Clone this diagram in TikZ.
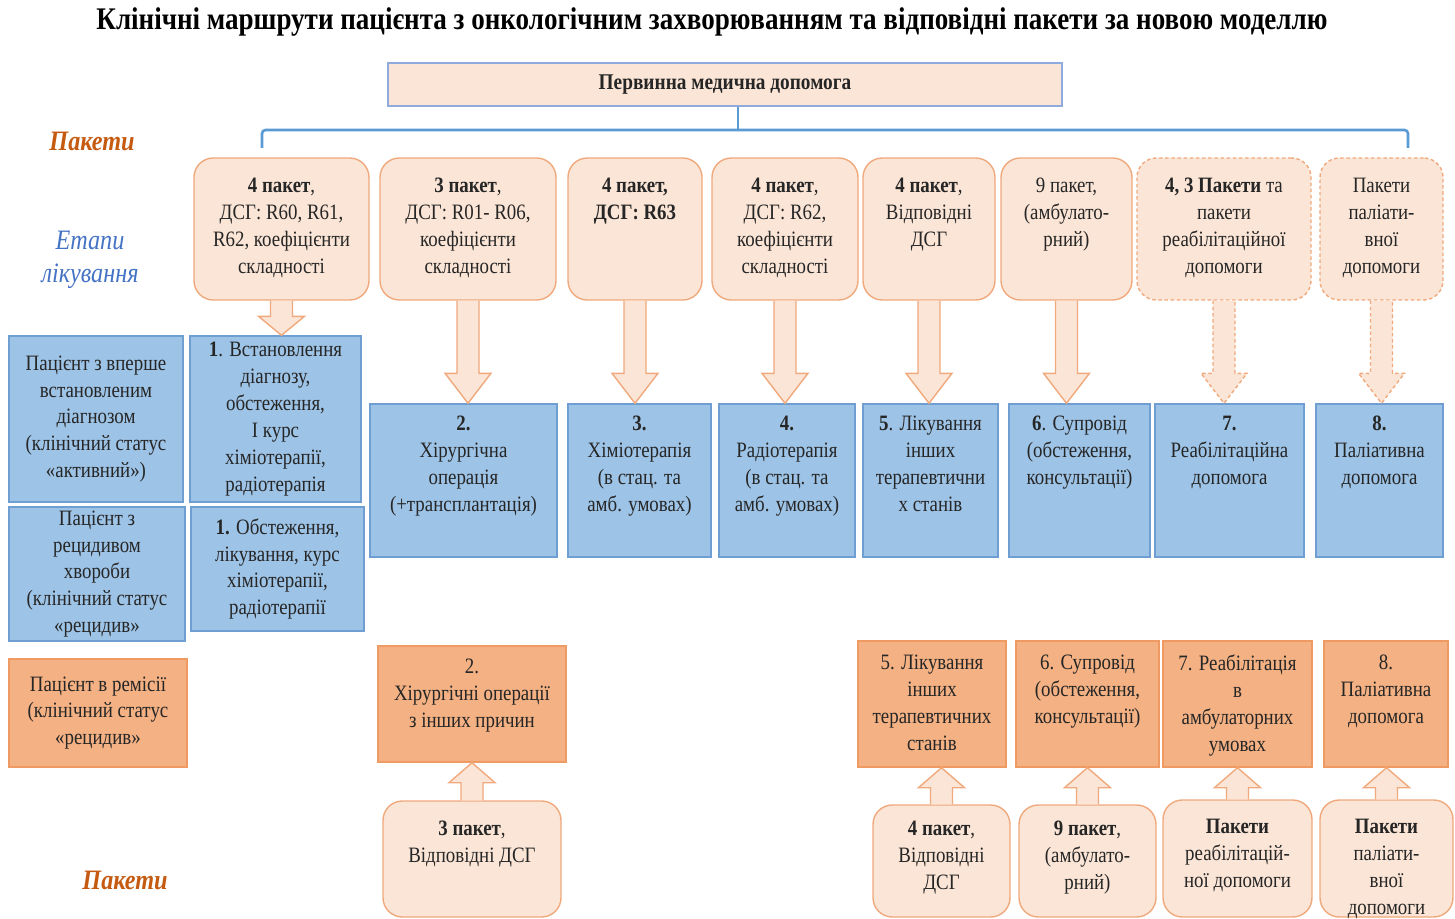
\documentclass[tikz,border=0pt]{standalone}
\usepackage{fontspec}
\setmainfont{Liberation Serif}[FakeStretch=0.86]
\usepackage{tikz}
\usetikzlibrary{calc}
\definecolor{ink}{HTML}{262626}
\definecolor{pkfill}{HTML}{FBE5D6}
\definecolor{pkline}{HTML}{F0A97C}
\definecolor{stfill}{HTML}{9DC3E6}
\definecolor{stline}{HTML}{6E9ED2}
\definecolor{rmfill}{HTML}{F4B183}
\definecolor{rmline}{HTML}{EE9A62}
\definecolor{brk}{HTML}{5B9BD5}
\definecolor{primline}{HTML}{8FAADC}
\definecolor{pkorange}{HTML}{C55A11}
\definecolor{etblue}{HTML}{4472C4}

\newdimen\pxu \pxu=0.02cm
\newcommand{\cellfont}{\fontsize{12.5}{15.3}\selectfont}
\newcommand{\topcell}[4][12]{\parbox[c][#3\pxu][t]{#2\pxu}{\centering\vspace*{#1\pxu}#4\par}}
\newcommand{\midcell}[3]{\parbox[c][#2\pxu][c]{#1\pxu}{\centering #3\par}}

\tikzset{
  pkg/.style={draw=pkline,fill=pkfill,rounded corners=11pt,inner sep=0pt,line width=0.8pt,text=ink,font=\cellfont},
  dsh/.style={dash pattern=on 2pt off 1.5pt},
  pkgdash/.style={pkg,dsh},
  stage/.style={draw=stline,fill=stfill,inner sep=0pt,line width=0.8pt,text=ink,font=\cellfont},
  remit/.style={draw=rmline,fill=rmfill,inner sep=0pt,line width=0.8pt,text=ink,font=\cellfont},
  prim/.style={draw=primline,fill=pkfill,inner sep=0pt,line width=0.8pt,text=ink,font=\fontsize{12.8}{14}\selectfont\bfseries},
  blk/.style={draw=pkline,fill=pkfill,line width=0.8pt,line join=miter},
  brace/.style={draw=brk,line width=1.5pt,rounded corners=2pt},
  sidepk/.style={text=pkorange,font=\fontsize{16}{19}\selectfont\bfseries\itshape},
  sideet/.style={text=etblue,font=\fontsize{16}{18.7}\selectfont\itshape,align=center},
}

% block arrows between boxes: source, target, head length
\newcommand{\blkdown}[4][]{%
  \draw[blk,#1] ($(#2.south)+(-11,0)$) -- ($(#2.south|-#3.north)+(-11,-#4)$)
    -- ($(#2.south|-#3.north)+(-23,-#4)$) -- (#2.south|-#3.north)
    -- ($(#2.south|-#3.north)+(23,-#4)$) -- ($(#2.south|-#3.north)+(11,-#4)$)
    -- ($(#2.south)+(11,0)$);}
\newcommand{\blkup}[4][]{%
  \draw[blk,#1] ($(#2.north)+(-11,0)$) -- ($(#2.north|-#3.south)+(-11,#4)$)
    -- ($(#2.north|-#3.south)+(-23,#4)$) -- (#2.north|-#3.south)
    -- ($(#2.north|-#3.south)+(23,#4)$) -- ($(#2.north|-#3.south)+(11,#4)$)
    -- ($(#2.north)+(11,0)$);}

\begin{document}
\begin{tikzpicture}[x=0.02cm,y=-0.02cm]
  \useasboundingbox (0,0) rectangle (1455,919);
  \node[font=\fontsize{17.9}{21}\selectfont\bfseries] (title) at (712,22)
    {Клінічні маршрути пацієнта з онкологічним захворюванням та відповідні пакети за новою моделлю};
  \node[prim] (prim) at (725,84.5) {\midcell{674}{43}{Первинна медична допомога}};
  \coordinate (brl) at (262,148);
  \coordinate (brr) at (1408,148);
  \coordinate (brtip) at ($(prim.south)+(13,0)$);
  \draw[brace] (brl) -- (262,130) -- (1408,130) -- (brr);
  \draw[brace] (brtip) -- (brtip |- 0,130);

  \node[sidepk] (pkup) at (92,141) {Пакети};
  \node[sideet] (etapy) at (90,260) {Етапи\\лікування};
  \node[sidepk] (pkdown) at (125,880) {Пакети};

  % packages
  \node[pkg] (p1) at (281.5,229) {\topcell[20]{175}{142}{\textbf{4 пакет},\\ДСГ: R60, R61,\\R62, коефіцієнти\\складності}};
  \node[pkg] (p2) at (468,229) {\topcell[20]{176}{142}{\textbf{3 пакет},\\ДСГ: R01- R06,\\коефіцієнти\\складності}};
  \node[pkg] (p3) at (635,229) {\topcell[20]{134}{142}{\textbf{4 пакет,}\\\textbf{ДСГ: R63}}};
  \node[pkg] (p4) at (785,229) {\topcell[20]{146}{142}{\textbf{4 пакет},\\ДСГ: R62,\\коефіцієнти\\складності}};
  \node[pkg] (p5) at (929,229) {\topcell[20]{132}{142}{\textbf{4 пакет},\\Відповідні\\ДСГ}};
  \node[pkg] (p6) at (1066.5,229) {\topcell[20]{131}{142}{9 пакет,\\(амбулато-\\рний)}};
  \node[pkgdash] (p7) at (1224,229) {\topcell[20]{174}{142}{\textbf{4, 3 Пакети} та\\пакети\\реабілітаційної\\допомоги}};
  \node[pkgdash] (p8) at (1381.5,229) {\topcell[20]{123}{142}{Пакети\\паліати-\\вної\\допомоги}};

  % patients and stages
  \node[stage] (pt1) at (96,419) {\midcell{174}{166}{Пацієнт з вперше\\встановленим\\діагнозом\\(клінічний статус\\«активний»)}};
  \node[stage] (s1) at (275.5,419) {\midcell{171}{166}{\textbf{1}. Встановлення\\діагнозу,\\обстеження,\\І курс\\хіміотерапії,\\радіотерапія}};
  \node[stage] (pt2) at (97,574) {\midcell{176}{134}{Пацієнт з\\рецидивом\\хвороби\\(клінічний статус\\«рецидив»}};
  \node[stage] (s1b) at (277.5,569) {\midcell{173}{124}{\textbf{1.} Обстеження,\\лікування, курс\\хіміотерапії,\\радіотерапії}};
  \node[remit] (rm) at (98,713) {\midcell{178}{108}{Пацієнт в ремісії\\(клінічний статус\\«рецидив»}};

  \node[stage] (s2) at (463.5,480.5) {\topcell{187}{153}{\textbf{2.}\\Хірургічна\\операція\\(+трансплантація)}};
  \node[stage] (s3) at (639.5,480.5) {\topcell{143}{153}{\textbf{3.}\\Хіміотерапія\\(в стац. та\\амб. умовах)}};
  \node[stage] (s4) at (787,480.5) {\topcell{136}{153}{\textbf{4.}\\Радіотерапія\\(в стац. та\\амб. умовах)}};
  \node[stage] (s5) at (930.5,480.5) {\topcell{135}{153}{\textbf{5}. Лікування\\інших\\терапевтични\\х станів}};
  \node[stage] (s6) at (1079.5,480.5) {\topcell{141}{153}{\textbf{6}. Супровід\\(обстеження,\\консультації)}};
  \node[stage] (s7) at (1229.5,480.5) {\topcell{149}{153}{\textbf{7.}\\Реабілітаційна\\допомога}};
  \node[stage] (s8) at (1379.5,480.5) {\topcell{127}{153}{\textbf{8.}\\Паліативна\\допомога}};

  \node[remit] (o2) at (472,704) {\topcell[13]{188}{116}{2.\\Хірургічні операції\\з інших причин}};
  \node[remit] (o5) at (932,704) {\topcell[14]{148}{126}{5. Лікування\\інших\\терапевтичних\\станів}};
  \node[remit] (o6) at (1087.5,704) {\topcell[14]{143}{126}{6. Супровід\\(обстеження,\\консультації)}};
  \node[remit] (o7) at (1237.5,704) {\topcell[14]{149}{126}{7. Реабілітація\\в\\амбулаторних\\умовах}};
  \node[remit] (o8) at (1386,704) {\topcell[14]{124}{126}{8.\\Паліативна\\допомога}};

  \node[pkg] (b3) at (472,859) {\topcell[20]{178}{116}{\textbf{3 пакет},\\Відповідні ДСГ}};
  \node[pkg] (b4) at (941.5,861) {\topcell[16]{137}{112}{\textbf{4 пакет},\\Відповідні\\ДСГ}};
  \node[pkg] (b9) at (1087.5,861) {\topcell[16]{137}{112}{\textbf{9 пакет},\\(амбулато-\\рний)}};
  \node[pkg] (br) at (1237.5,858.5) {\topcell[19]{149}{117}{\textbf{Пакети}\\реабілітацій-\\ної допомоги}};
  \node[pkg] (bp) at (1386.5,858.5) {\topcell[19]{133}{117}{\textbf{Пакети}\\паліати-\\вної\\допомоги}};

  \blkdown{p1}{s1}{19}
  \blkdown{p2}{s2}{30}
  \blkdown{p3}{s3}{30}
  \blkdown{p4}{s4}{30}
  \blkdown{p5}{s5}{30}
  \blkdown{p6}{s6}{30}
  \blkdown[dsh]{p7}{s7}{30}
  \blkdown[dsh]{p8}{s8}{30}
  \blkup{b3}{o2}{20}
  \blkup{b4}{o5}{20}
  \blkup{b9}{o6}{20}
  \blkup{br}{o7}{20}
  \blkup{bp}{o8}{20}
\end{tikzpicture}
\end{document}
